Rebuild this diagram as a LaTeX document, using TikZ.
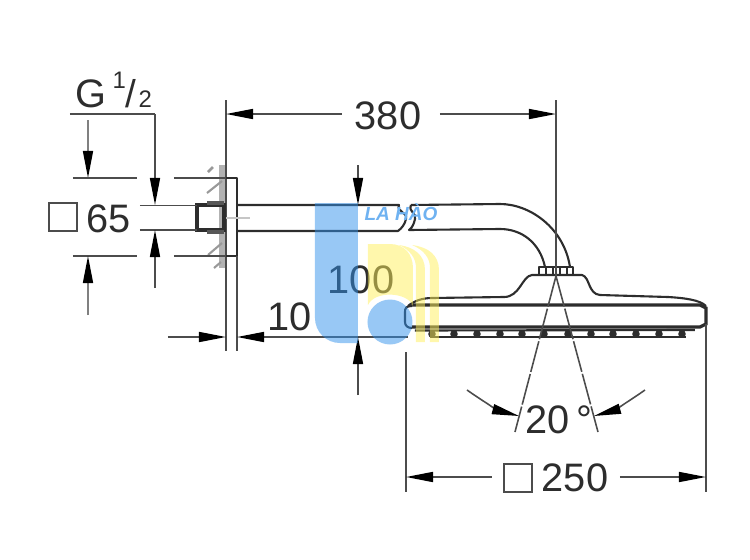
\documentclass[tikz,border=0pt]{standalone}
\usepackage{fontspec}
\setmainfont{Liberation Sans}
\usetikzlibrary{arrows.meta}
\definecolor{lineColor}{RGB}{45,45,45}
\definecolor{markBlue}{RGB}{50,145,235}
\definecolor{markYellow}{RGB}{255,240,90}
\tikzstyle{sheet} = [x = .01cm, y = -.01cm]
\tikzstyle{dimLine} = [color=lineColor!85, line width=.45pt]
\tikzstyle{dimArrow} = [dimLine, -{Triangle[length=.27cm, width=.1cm, color=black, fill=black]}]
\tikzstyle{partLine} = [color=lineColor, line width=.6pt, line join=round]
\tikzstyle{heavyLine} = [color=lineColor, line width=.95pt]
\tikzstyle{wallStyle} = [color=gray!80, line width=.6pt]
\tikzstyle{dimText} = [font=\fontsize{11.3}{12}\selectfont, inner sep=0pt, text=lineColor]
\tikzstyle{smallText} = [dimText, font=\fontsize{6.8}{8}\selectfont]
\tikzstyle{markStyle} = [opacity=.5, draw=none]
\newcommand{\dimSquare}[2]{\draw [dimLine] (#1,#2) rectangle + (28,28);}
\newcommand{\nozzle}[1]{\fill [lineColor] (#1,334) circle (3.8);}
\begin{document}
\begin{tikzpicture}[sheet]
  \useasboundingbox (0,0) rectangle (750,560);

  % wall and plate
  \fill [gray!60] (219,165) rectangle (225,268);
  \draw [dimLine] (226,100) -- (226,351);
  \draw [partLine] (226,178) -- (237,178) -- (237,256) -- (226,256);
  \draw [dimLine] (237,256) -- (237,351);
  \draw [wallStyle] (207,193) -- (222,181);
  \draw [wallStyle] (208,255) -- (222,243);
  \draw [wallStyle] (214,268) -- (221,262);
  \draw [wallStyle, line width=.8pt] (208,172) -- (213,167);

  % nut
  \draw [heavyLine] (197,205) rectangle (224,230);
  \fill [lineColor!80] (207,201) rectangle (224,205);
  \fill [lineColor!80] (207,230) rectangle (224,234);

  % arm
  \draw [partLine] (237,205) -- (399,205) .. controls (396,212) and (408,212) .. (406,219) .. controls (405,224) and (402,228) .. (398,231) -- (237,231);
  \draw [partLine] (411,205) .. controls (408,212) and (417,213) .. (415,219) .. controls (414,224) and (412,228) .. (409,230) -- (500,229)
    .. controls (522,229) and (540,243) .. (545,267);
  \draw [partLine] (411,205) -- (500,204) .. controls (530,204) and (564,228) .. (570,267);
  \draw [color=gray!45, line width=.4pt] (226,218) -- (250,218);

  % collar and head
  \draw [partLine] (539,267) rectangle (573,275);
  \foreach \xmark in {546,553,560,567} {
    \draw [partLine] (\xmark,267) -- (\xmark,275);
  }
  \draw [partLine] (408,306) .. controls (414,301) and (422,298) .. (432,298) -- (504,297)
    .. controls (520,297) and (522,276) .. (532,275) -- (582,275)
    .. controls (590,277) and (588,294) .. (600,295) -- (668,297) .. controls (685,298) and (700,300) .. (706,306);
  \draw [partLine] (412,306) .. controls (406,306) and (405,308) .. (405,312) -- (405,322) .. controls (405,326) and (408,328) .. (412,328);
  \draw [heavyLine] (412,305) -- (700,305) -- (706,308) -- (706,324) -- (700,327) -- (412,327);
  \draw [partLine] (415,330.5) -- (695,330);
  \draw [partLine] (430,337) -- (686,337);
  \foreach \xnozzle in {432,454,477,500,522,544,568,591,613,636,659,682} {
    \nozzle{\xnozzle}
  }

  % dimension 380
  \node [dimText] (dimLength) at (388,116) {380};
  \coordinate (lengthLeft) at (226,114);
  \coordinate (lengthRight) at (556,114);
  \draw [dimArrow] (342,114) -- (lengthLeft);
  \draw [dimArrow] (440,114) -- (lengthRight);
  \draw [dimLine] (556,100) -- (556,276);

  % thread
  \node [dimText, anchor=base west] (threadG) at (75,107) {G};
  \node [smallText, anchor=base west] (threadOne) at (112,88) {1};
  \node [dimText, anchor=base west, font=\fontsize{11}{12}\selectfont] (threadSlash) at (125,107) {/};
  \node [smallText, anchor=base west] (threadTwo) at (138,107) {2};
  \draw [dimLine] (70,114) -- (155,114);
  \draw [dimArrow] (155,114) -- (155,205);
  \draw [dimArrow, color=gray] (88,120) -- (88,178);

  % dimension 65
  \draw [dimLine] (73,178) -- (137,178) (174,178) -- (226,178);
  \draw [dimLine] (140,205.5) -- (197,205.5) (140,230) -- (197,230);
  \draw [dimLine] (73,256) -- (137,256) (174,256) -- (226,256);
  \dimSquare{49}{203}
  \node [dimText] (dimBoss) at (109,219) {65};
  \draw [dimArrow] (155,288) -- (155,230);
  \draw [dimArrow, color=gray] (88,315) -- (88,256);

  % dimension 10
  \node [dimText] (dimPlate) at (290,317) {10};
  \draw [dimArrow] (168,337) -- (226,337);
  \draw [dimArrow] (408,337) -- (237,337);

  % dimension 100
  \node [dimText] (dimDrop) at (361,280) {100};
  \draw [dimArrow] (358,165) -- (358,205);
  \draw [dimArrow] (358,395) -- (358,337);

  % angle
  \draw [dimLine, dash pattern=on 9pt off .6pt] (556,276) -- (515,432);
  \draw [dimLine, dash pattern=on 9pt off .6pt] (556,276) -- (598,432);
  \node [dimText] (dimAngle) at (559,420) {20\,°};
  \draw [dimArrow] (467,390) .. controls (484,402) and (500,411) .. (519,416);
  \draw [dimArrow] (645,390) .. controls (628,402) and (612,411) .. (594,416);

  % dimension 250
  \draw [dimLine] (406,352) -- (406,492);
  \draw [dimLine] (706,324) -- (706,492);
  \dimSquare{504}{464}
  \node [dimText] (dimHead) at (575,478) {250};
  \draw [dimArrow] (492,477) -- (406,477);
  \draw [dimArrow] (620,477) -- (706,477);

  % watermark
  \fill [markStyle, markYellow] (368,244) -- (390,244) .. controls (404,244) and (413,254) .. (413,268) -- (413,306)
    .. controls (408,292) and (375,290) .. (368,305) -- cycle;
  \fill [markStyle, markYellow] (399,245) .. controls (414,247) and (425,255) .. (425,270) -- (425,342) -- (416,342) -- (416,268) .. controls (416,258) and (410,250) .. (399,245) -- cycle;
  \fill [markStyle, markYellow] (412,245) .. controls (428,247) and (439,255) .. (439,270) -- (439,342) -- (430,342) -- (430,268) .. controls (430,258) and (424,250) .. (412,245) -- cycle;
  \fill [markStyle, markBlue] (315,203) -- (358,203) -- (358,343) -- (340,343) arc (90:180:25) -- cycle;
  \fill [markStyle, markBlue] (390,322) circle (22.5);
  \node [inner sep=0pt, font=\bfseries\itshape\fontsize{5.4}{6}\selectfont, text=markBlue!70] (markName) at (401,212) {LA HÀO};
\end{tikzpicture}
\end{document}
